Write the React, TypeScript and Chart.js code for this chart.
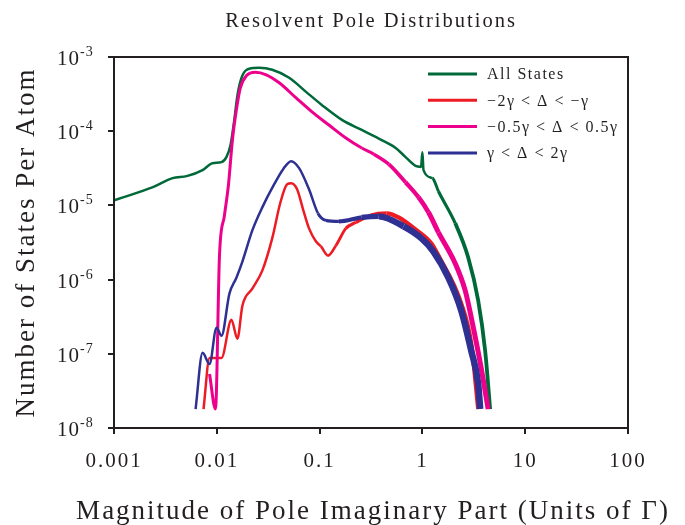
import React, { useEffect, useRef } from 'react';
import { Chart, registerables } from 'chart.js';

Chart.register(...registerables);

const TITLE = 'Resolvent Pole Distributions';
const X_TITLE = 'Magnitude of Pole Imaginary Part (Units of Γ)';
const Y_TITLE = 'Number of States Per Atom';

const X_TICKS = [0.001, 0.01, 0.1, 1, 10, 100];
const X_TICK_LABELS = ['0.001', '0.01', '0.1', '1', '10', '100'];
const Y_TICKS = [1e-3, 1e-4, 1e-5, 1e-6, 1e-7, 1e-8];
const Y_TICK_BASE = '10';
const Y_TICK_EXPONENTS = ['-3', '-4', '-5', '-6', '-7', '-8'];

const SERIES_LABELS = ['All States', '−2γ < Δ < −γ', '−0.5γ < Δ < 0.5γ', 'γ < Δ < 2γ'];
const SERIES_COLORS = ['#00693a', '#ed1c24', '#ec008c', '#2e3192'];

const ALL_X = [0.001, 0.00239, 0.00372, 0.00509, 0.00727, 0.00908, 0.0111, 0.0124, 0.0136, 0.0148, 0.0159, 0.0177, 0.0207, 0.0259, 0.0346, 0.0506, 0.0738, 0.105, 0.165, 0.257, 0.402, 0.55, 0.686, 0.857, 0.97, 1.0, 1.025, 1.252, 1.432, 2.09, 2.79, 3.49, 4.08, 4.56];
const ALL_Y = [1.17e-5, 1.76e-5, 2.33e-5, 2.48e-5, 2.99e-5, 3.71e-5, 3.83e-5, 4.48e-5, 6.5e-5, 1.42e-4, 3.09e-4, 5.58e-4, 6.95e-4, 7.16e-4, 6.73e-4, 5.25e-4, 3.39e-4, 2.26e-4, 1.42e-4, 1.04e-4, 7.6e-5, 5.93e-5, 4.48e-5, 3.4e-5, 3.3e-5, 5.2e-5, 2.99e-5, 2.33e-5, 1.55e-5, 5.73e-6, 1.99e-6, 5.2e-7, 1.09e-7, 1.8e-8];

const NEG2_X = [0.00743, 0.0085, 0.0111, 0.01388, 0.01586, 0.01774, 0.02216, 0.0277, 0.03459, 0.04137, 0.04835, 0.05284, 0.06039, 0.06902, 0.07889, 0.09226, 0.1032, 0.1206, 0.1442, 0.1802, 0.2251, 0.3145, 0.4493, 0.5871, 0.857, 1.225, 1.432, 2.39, 2.99, 3.49];
const NEG2_Y = [1.8e-8, 8.8e-8, 8.8e-8, 2.87e-7, 1.59e-7, 4.45e-7, 7.55e-7, 1.32e-6, 3.59e-6, 1.07e-5, 1.93e-5, 1.99e-5, 1.65e-5, 8.86e-6, 4.9e-6, 3.27e-6, 2.8e-6, 2.11e-6, 2.88e-6, 4.9e-6, 5.9e-6, 7.35e-6, 7.82e-6, 6.9e-6, 4.75e-6, 3.07e-6, 2.11e-6, 4.73e-7, 1.36e-7, 1.8e-8];

const MID_X = [0.0085, 0.00971, 0.01062, 0.01187, 0.01297, 0.01419, 0.01551, 0.01694, 0.01939, 0.02369, 0.03027, 0.04046, 0.05907, 0.08433, 0.1233, 0.1802, 0.257, 0.336, 0.47, 0.686, 0.916, 1.146, 1.432, 2.09, 2.61, 2.99, 3.73, 4.36];
const MID_Y = [5.35e-8, 1.8e-8, 2.11e-6, 7.35e-6, 1.87e-5, 7.6e-5, 1.94e-4, 3.84e-4, 5.58e-4, 6.23e-4, 5.76e-4, 4.49e-4, 2.81e-4, 1.82e-4, 1.21e-4, 8.09e-5, 5.93e-5, 4.91e-5, 3.6e-5, 2.05e-5, 1.29e-5, 8.07e-6, 4.33e-6, 1.64e-6, 7.1e-7, 3.06e-7, 6.44e-8, 1.8e-8];

const POS_X = [0.00622, 0.00727, 0.0085, 0.00993, 0.0111, 0.01327, 0.01551, 0.01774, 0.02216, 0.0277, 0.03619, 0.04421, 0.05284, 0.06319, 0.07889, 0.09649, 0.1153, 0.1542, 0.257, 0.3758, 0.6561, 0.9795, 1.281, 1.789, 2.39, 2.99, 3.49, 3.65];
const POS_Y = [1.8e-8, 1.03e-7, 7.3e-8, 2.24e-7, 1.75e-7, 6.47e-7, 1.06e-6, 1.75e-6, 4.6e-6, 9.4e-6, 1.93e-5, 3.08e-5, 3.95e-5, 3.18e-5, 1.65e-5, 7.8e-6, 6.29e-6, 6.09e-6, 6.9e-6, 7.12e-6, 5.21e-6, 3.59e-6, 2.39e-6, 1.06e-6, 3.81e-7, 1.09e-7, 3.91e-8, 1.8e-8];

const FONT = "'Liberation Serif', 'Times New Roman', serif";
const INK = '#231f20';

function toPoints(xs: number[], ys: number[]) {
  return xs.map((x, i) => ({ x, y: ys[i] }));
}

function widthRamp(thin: number, thick: number, from: number, to: number) {
  return (ctx: any) => {
    const x = ctx.p0.parsed.x;
    if (x <= from) return thin;
    if (x >= to) return thick;
    const t = (Math.log(x) - Math.log(from)) / (Math.log(to) - Math.log(from));
    return thin + t * (thick - thin);
  };
}

const spacingPlugin = {
  id: 'spacing',
  beforeUpdate(chart: any) { chart.ctx.letterSpacing = '2px'; },
  beforeDraw(chart: any) { chart.ctx.letterSpacing = '2px'; },
};

const framePlugin = {
  id: 'frame',
  afterDraw(chart: any) {
    const { ctx, chartArea: a } = chart;
    ctx.save();
    ctx.strokeStyle = INK;
    ctx.lineWidth = 2;
    ctx.strokeRect(a.left, a.top, a.right - a.left, a.bottom - a.top);
    ctx.restore();
  },
};

const xTitlePlugin = {
  id: 'xTitle',
  afterDraw(chart: any) {
    const { ctx, chartArea: a } = chart;
    ctx.save();
    ctx.fillStyle = INK;
    ctx.letterSpacing = '2px';
    ctx.font = `27px ${FONT}`;
    ctx.textAlign = 'center';
    ctx.textBaseline = 'alphabetic';
    ctx.fillText(X_TITLE, (a.left + a.right) / 2 + 2, a.bottom + 91);
    ctx.restore();
  },
};

const yLabelPlugin = {
  id: 'yLabels',
  afterDraw(chart: any) {
    const { ctx, chartArea: a } = chart;
    const ys = chart.scales.y;
    ctx.save();
    ctx.fillStyle = INK;
    ctx.letterSpacing = '1px';
    ctx.textAlign = 'left';
    ctx.textBaseline = 'alphabetic';
    Y_TICKS.forEach((v, i) => {
      const py = ys.getPixelForValue(v);
      const x0 = a.left - 57;
      ctx.font = `21px ${FONT}`;
      ctx.fillText(Y_TICK_BASE, x0, py + 8);
      const w = ctx.measureText(Y_TICK_BASE).width;
      ctx.font = `14px ${FONT}`;
      ctx.fillText(Y_TICK_EXPONENTS[i], x0 + w, py - 1);
    });
    ctx.restore();
  },
};

const legendPlugin = {
  id: 'innerLegend',
  afterDraw(chart: any) {
    const { ctx, chartArea: a } = chart;
    ctx.save();
    ctx.letterSpacing = '1.5px';
    ctx.font = `16px ${FONT}`;
    ctx.textAlign = 'left';
    ctx.textBaseline = 'middle';
    SERIES_LABELS.forEach((label, i) => {
      const y = a.top + 17 + i * 26.3;
      ctx.strokeStyle = SERIES_COLORS[i];
      ctx.lineWidth = 3;
      ctx.beginPath();
      ctx.moveTo(a.left + 314, y);
      ctx.lineTo(a.left + 363, y);
      ctx.stroke();
      ctx.fillStyle = INK;
      ctx.fillText(label, a.left + 373, y + 1);
    });
    ctx.restore();
  },
};

export default function App() {
  const ref = useRef<HTMLCanvasElement | null>(null);

  useEffect(() => {
    if (!ref.current) return;
    const series = [
      { xs: ALL_X, ys: ALL_Y, w: widthRamp(2.5, 3.8, 1.03, 2.0), order: 3 },
      { xs: NEG2_X, ys: NEG2_Y, w: widthRamp(2.5, 4.2, 0.1, 0.4), order: 2 },
      { xs: MID_X, ys: MID_Y, w: widthRamp(3, 5, 0.25, 1.2), order: 1 },
      { xs: POS_X, ys: POS_Y, w: widthRamp(2.5, 6.5, 0.08, 0.4), order: 0 },
    ];
    const chart = new Chart(ref.current, {
      type: 'line',
      data: {
        datasets: series.map((s, i) => ({
          label: SERIES_LABELS[i],
          data: toPoints(s.xs, s.ys),
          borderColor: SERIES_COLORS[i],
          borderWidth: 2.5,
          pointRadius: 0,
          fill: false,
          cubicInterpolationMode: 'monotone',
          order: s.order,
          segment: { borderWidth: s.w },
        })),
      },
      options: {
        animation: false,
        responsive: true,
        maintainAspectRatio: false,
        layout: { padding: { left: 0, right: 57, top: 0, bottom: 0 } },
        plugins: {
          legend: { display: false },
          tooltip: { enabled: false },
          title: {
            display: true,
            text: TITLE,
            fullSize: false,
            color: INK,
            font: { family: FONT, size: 20.5, weight: 'normal' },
            padding: { top: 9, bottom: 23.4 },
          },
        },
        scales: {
          x: {
            type: 'logarithmic',
            min: 0.001,
            max: 100,
            afterFit: (s: any) => { s.height = 97; },
            afterBuildTicks: (s: any) => { s.ticks = X_TICKS.map((v) => ({ value: v })); },
            ticks: {
              callback: (_v: any, i: number) => X_TICK_LABELS[i],
              color: INK,
              font: { family: FONT, size: 21 },
              padding: 15,
              maxRotation: 0,
              autoSkip: false,
            },
            grid: { display: true, drawOnChartArea: false, drawTicks: true, tickLength: 6, lineWidth: 2, color: INK },
            border: { display: false },
            title: { display: false },
          },
          y: {
            type: 'logarithmic',
            min: 1e-8,
            max: 1e-3,
            afterFit: (s: any) => { s.width = 114; },
            afterBuildTicks: (s: any) => { s.ticks = Y_TICKS.map((v) => ({ value: v })); },
            ticks: { display: false },
            grid: { display: true, drawOnChartArea: false, drawTicks: true, tickLength: 6, lineWidth: 2, color: INK },
            border: { display: false },
            title: {
              display: true,
              text: Y_TITLE,
              color: INK,
              font: { family: FONT, size: 27 },
              padding: { top: 11, bottom: 0 },
            },
          },
        },
      } as any,
      plugins: [spacingPlugin, framePlugin, xTitlePlugin, yLabelPlugin, legendPlugin],
    });
    return () => chart.destroy();
  }, []);

  return (
    <div style={{ position: 'absolute', left: 0, top: 0, width: 685, height: 525 }}>
      <canvas ref={ref} />
    </div>
  );
}
